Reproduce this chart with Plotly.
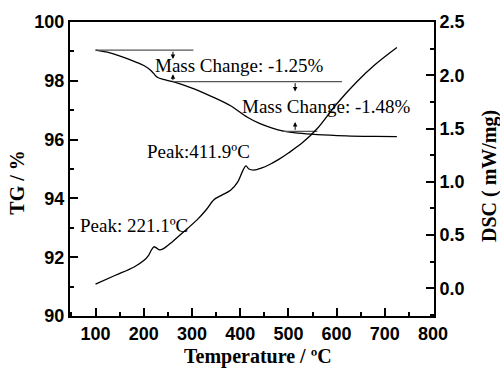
import plotly.graph_objects as go

# ---- data ----
T_tg = [100, 130, 160, 185, 200, 213, 220, 228, 245, 262, 300, 340, 380, 415,
        440, 465, 490, 520, 560, 620, 680, 725]
TG = [99.04, 98.95, 98.79, 98.63, 98.52, 98.38, 98.26, 98.12, 98.03, 97.96,
      97.75, 97.47, 97.15, 96.76, 96.55, 96.40, 96.29, 96.22, 96.17, 96.13,
      96.11, 96.10]

T_dsc = [100, 140, 180, 200, 210, 216, 221, 226, 233, 240, 260, 280, 310, 330,
         345, 360, 380, 395, 405, 412, 418, 428, 445, 460, 480, 500, 530, 560,
         600, 640, 680, 725]
DSC = [0.04, 0.12, 0.20, 0.26, 0.31, 0.36, 0.39, 0.38, 0.36, 0.37, 0.44, 0.52,
       0.64, 0.74, 0.83, 0.87, 0.92, 1.00, 1.10, 1.15, 1.12, 1.11, 1.13, 1.16,
       1.21, 1.27, 1.37, 1.50, 1.73, 1.93, 2.10, 2.26]

# mass-change reference levels (TG %) and their temperature spans
ref1_T = [100, 303]
ref1_TG = [99.04, 99.04]
ref2_T = [261, 611]
ref2_TG = [97.97, 97.97]
ref3_T = [487, 560]
ref3_TG = [96.28, 96.28]

# arrows: (temperature, tail TG, tip TG)
arrows = [(260.5, 99.04, 98.74), (260.5, 97.97, 98.22),
          (514, 97.97, 97.64), (514, 96.28, 96.60)]

labels = [
    ("Mass Change: -1.25%", 219, 98.51),
    ("Mass Change: -1.48%", 399, 97.13),
    ("Peak:411.9ºC", 203, 95.61),
    ("Peak: 221.1ºC", 63.5, 93.07),
]

x_ticks = [100, 200, 300, 400, 500, 600, 700, 800]
y_ticks = [90, 92, 94, 96, 98, 100]
y2_ticks = [0.0, 0.5, 1.0, 1.5, 2.0, 2.5]

serif = "Liberation Serif"
sans = "Liberation Sans"

fig = go.Figure()
line_style = dict(color="black", width=1.3)
fig.add_trace(go.Scatter(x=T_tg, y=TG, mode="lines", line=line_style,
                         line_shape="spline", showlegend=False))
fig.add_trace(go.Scatter(x=T_dsc, y=DSC, mode="lines", line=line_style,
                         line_shape="spline", yaxis="y2", showlegend=False))
for rx, ry in [(ref1_T, ref1_TG), (ref2_T, ref2_TG), (ref3_T, ref3_TG)]:
    fig.add_trace(go.Scatter(x=rx, y=ry, mode="lines",
                             line=dict(color="#555555", width=1.2),
                             showlegend=False))

annotations = []
for t, tail, tip in arrows:
    annotations.append(dict(x=t, y=tip, ax=t, ay=tail, xref="x", yref="y",
                            axref="x", ayref="y", text="", showarrow=True,
                            arrowhead=2, arrowsize=0.9, arrowwidth=1,
                            arrowcolor="black"))
for txt, t, v in labels:
    annotations.append(dict(x=t, y=v, xref="x", yref="y", text=txt,
                            showarrow=False, xanchor="left", yanchor="middle",
                            font=dict(family=serif, size=19, color="black")))

title_font = dict(family=serif, size=20, color="black")
annotations.append(dict(x=-0.146, y=0.453, xref="paper", yref="paper",
                        text="<b>TG / %</b>", textangle=-90, showarrow=False,
                        xanchor="center", yanchor="middle", font=title_font))
annotations.append(dict(x=1.151, y=0.476, xref="paper", yref="paper",
                        text="<b>DSC ( mW/mg)</b>", textangle=-90, showarrow=False,
                        xanchor="center", yanchor="middle", font=title_font))
annotations.append(dict(x=0.516, y=-0.139, xref="paper", yref="paper",
                        text="<b>Temperature / ºC</b>", showarrow=False,
                        xanchor="center", yanchor="middle", font=title_font))

tickfont = dict(family=sans, size=18, color="black")
fig.update_layout(
    width=500, height=373,
    margin=dict(l=70, r=66, t=20, b=57),
    paper_bgcolor="white", plot_bgcolor="white",
    annotations=annotations,
    xaxis=dict(range=[47, 802], tickvals=x_ticks,
               ticktext=[f"<b>{v}</b>" for v in x_ticks],
               ticks="inside", ticklen=8,
               tickwidth=2, tickcolor="black", showline=True, linewidth=2,
               linecolor="black", mirror=True, showgrid=False, zeroline=False,
               tickfont=tickfont,
               minor=dict(ticks="inside", ticklen=4, tickwidth=2,
                          tickcolor="black", dtick=50, tick0=0)),
    yaxis=dict(range=[90, 100], tickvals=y_ticks,
               ticktext=[f"<b>{v}</b>" for v in y_ticks],
               ticks="inside", ticklen=8,
               tickwidth=2, tickcolor="black", showline=True, linewidth=2,
               linecolor="black", showgrid=False, zeroline=False,
               tickfont=tickfont,
               minor=dict(ticks="inside", ticklen=4, tickwidth=2,
                          tickcolor="black", dtick=1, tick0=0)),
    yaxis2=dict(range=[-0.26, 2.5], tickvals=y2_ticks,
                ticktext=[f"<b>{v:.1f}</b>" for v in y2_ticks],
                overlaying="y", side="right",
                ticks="inside", ticklen=8, tickwidth=2, tickcolor="black",
                showline=True, linewidth=2, linecolor="black", showgrid=False,
                zeroline=False, tickfont=tickfont,
                minor=dict(ticks="inside", ticklen=4, tickwidth=2,
                           tickcolor="black", dtick=0.25, tick0=0)),
)

fig.write_html("out.html")
